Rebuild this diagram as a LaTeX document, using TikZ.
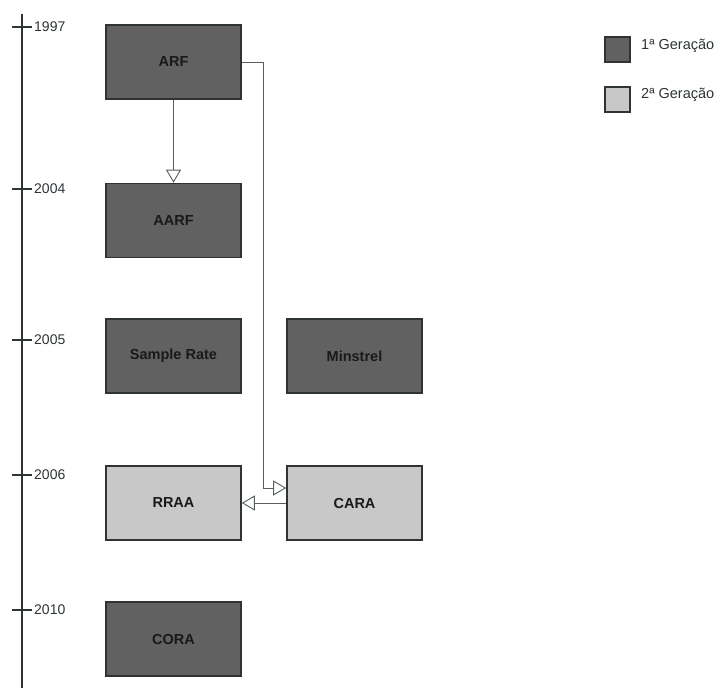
\documentclass[tikz,border=0pt]{standalone}
\usepackage{fontspec}
\setmainfont{Liberation Sans}
\usetikzlibrary{arrows.meta}
\definecolor{darkfill}{HTML}{616161}
\definecolor{lightfill}{HTML}{C8C8C8}
\definecolor{edge}{HTML}{2E3436}
\tikzset{
  algbox/.style={draw=edge, line width=1.6pt, minimum width=135pt, minimum height=74pt, inner sep=0pt, font=\bfseries\fontsize{14.5}{16}\selectfont, text=black!90},
  gen1/.style={algbox, fill=darkfill},
  gen2/.style={algbox, fill=lightfill},
  legbox/.style={draw=edge, line width=1.3pt, minimum width=25pt, minimum height=25pt, inner sep=0pt},
  conn/.style={draw=edge!80, line width=0.9pt, -{Triangle[open, length=13pt, width=15pt, line width=0.9pt]}},
  yearlbl/.style={anchor=west, inner sep=0pt, font=\fontsize{14}{16}\selectfont, text=edge},
  leglbl/.style={anchor=west, inner sep=0pt, font=\fontsize{14.5}{16}\selectfont, text=edge},
  tick/.style={draw=edge, line width=1.5pt}
}
\begin{document}
\begin{tikzpicture}[x=1pt, y=-1pt]
\useasboundingbox (0,0) rectangle (719,688);
% timeline
\coordinate (tlTop) at (22,14);
\coordinate (tlBot) at (22,688);
\draw[tick, line width=2.2pt] (tlTop) -- (tlBot);
\foreach \y/\yr [count=\i] in {27/1997,189/2004,340/2005,475/2006,610/2010}{
  \coordinate (tA\i) at (12,\y);
  \coordinate (tB\i) at (32,\y);
  \draw[tick] (tA\i) -- (tB\i);
  \node[yearlbl] (yr\i) at (34,\y) {\yr};
}
% boxes
\node[gen1] (arf) at (173.5,62) {ARF};
\node[gen1] (aarf) at (173.5,220.5) {AARF};
\node[gen1] (sample) at (173.5,356) {Sample Rate};
\node[gen1] (minstrel) at (354.5,356) {Minstrel};
\node[gen2] (rraa) at (173.5,503) {RRAA};
\node[gen2] (cara) at (354.5,503) {CARA};
\node[gen1] (cora) at (173.5,639) {CORA};
% connectors
\draw[conn] (arf.south) -- (aarf.north);
\coordinate (bendA) at (263,62);
\coordinate (bendB) at (263,488);
\draw[conn] (arf.east) -- (bendA) -- (bendB) -- (bendB -| cara.west);
\draw[conn] (cara.west) -- (rraa.east);
% legend
\node[legbox, fill=darkfill] (leg1) at (617.5,49.5) {};
\node[legbox, fill=lightfill] (leg2) at (617.5,99.5) {};
\node[leglbl] (legt1) at (641,46) {1ª Geração};
\node[leglbl] (legt2) at (641,95) {2ª Geração};
\end{tikzpicture}
\end{document}
